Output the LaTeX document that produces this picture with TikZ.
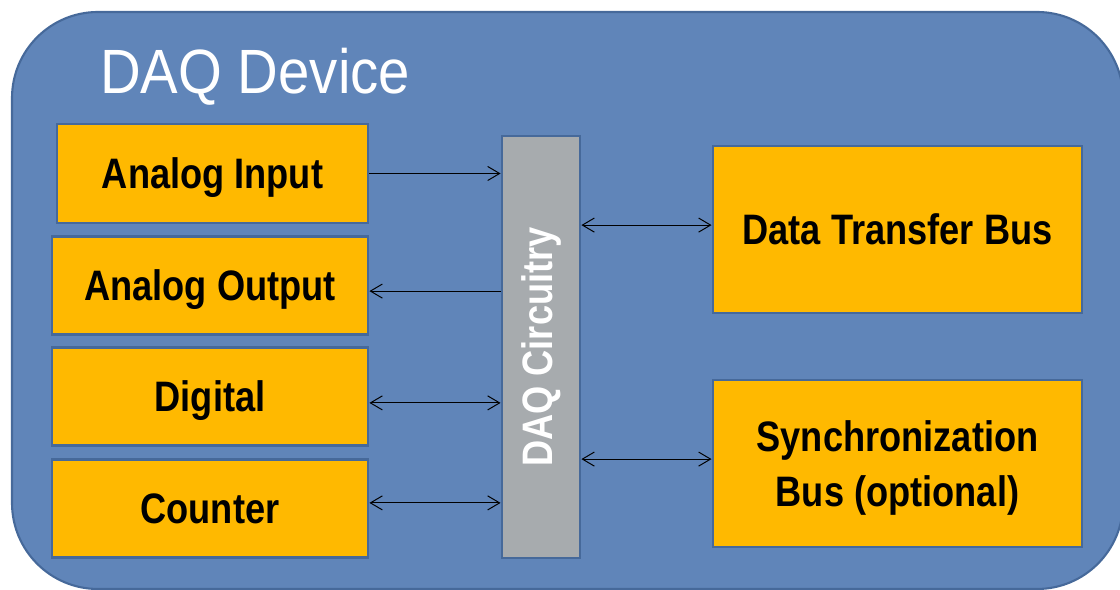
\documentclass[tikz,border=0pt]{standalone}
\usepackage{fontspec}
\setmainfont{Liberation Sans}[FakeStretch=0.85]
\newfontfamily\titlefont{Liberation Sans}[FakeStretch=0.9]
\usetikzlibrary{arrows.meta}
\definecolor{devblue}{HTML}{6085B9}
\definecolor{devedge}{HTML}{46699A}
\definecolor{unitgold}{HTML}{FFB900}
\definecolor{hubgrey}{HTML}{A7ABAE}

\begin{document}
\begin{tikzpicture}[x=0.025cm,y=0.025cm,
    >={Straight Barb[length=8.5pt,width=10pt]},
    unit/.style={draw=devedge,line width=2pt,fill=unitgold,inner sep=0pt,
      minimum width=7.9cm,minimum height=2.45cm,align=center,text depth=0pt,
      font=\fontsize{30.3}{39}\selectfont\bfseries},
    hub/.style={draw=devedge,line width=2pt,fill=hubgrey,inner sep=0pt,
      minimum width=1.95cm,minimum height=10.55cm},
    link/.style={line width=0.7pt}]

    \useasboundingbox (0,0) rectangle (1120,590);

    % device outline
    \draw[devedge,line width=1.5pt,fill=devblue,rounded corners=2.15cm]
      (12,1) rectangle (1123,578);
    \node[anchor=base west,text=white,inner sep=0pt,
      font=\titlefont\fontsize{44.5}{50}\selectfont] (title) at (100,496)
      {DAQ Device};

    % signal units on the left
    \node[unit,minimum width=7.775cm,minimum height=2.475cm] (ain)
      at (212.5,416.5) {Analog Input};
    \node[unit] (aout) at (210,304.5) {Analog Output};
    \node[unit] (dig) at (210,193.5) {Digital};
    \node[unit] (cnt) at (210,81.5) {Counter};

    % circuitry in the middle
    \node[hub] (daq) at (541,243) {};
    \node[rotate=90,text=white,font=\fontsize{30.3}{39}\selectfont\bfseries]
      (daqlabel) at (daq.center) {DAQ Circuitry};

    % buses on the right
    \node[unit,minimum width=9.225cm,minimum height=4.175cm] (dtb)
      at (897.5,360.5) {Data Transfer Bus};
    \node[unit,minimum width=9.225cm,minimum height=4.175cm] (sync)
      at (897.5,126.5) {Synchronization\\Bus (optional)};

    \draw[->,link] (ain.east) -- (ain.east -| daq.west);
    \draw[<-,link] ([yshift=-0.14cm]aout.east) -- ([yshift=-0.14cm]aout.east -| daq.west);
    \draw[<->,link] ([yshift=-0.16cm]dig.east) -- ([yshift=-0.16cm]dig.east -| daq.west);
    \draw[<->,link] ([yshift=0.14cm]cnt.east) -- ([yshift=0.14cm]cnt.east -| daq.west);
    \draw[<->,link] ([yshift=0.11cm]dtb.west -| daq.east) -- ([yshift=0.11cm]dtb.west);
    \draw[<->,link] ([yshift=0.11cm]sync.west -| daq.east) -- ([yshift=0.11cm]sync.west);
\end{tikzpicture}
\end{document}
